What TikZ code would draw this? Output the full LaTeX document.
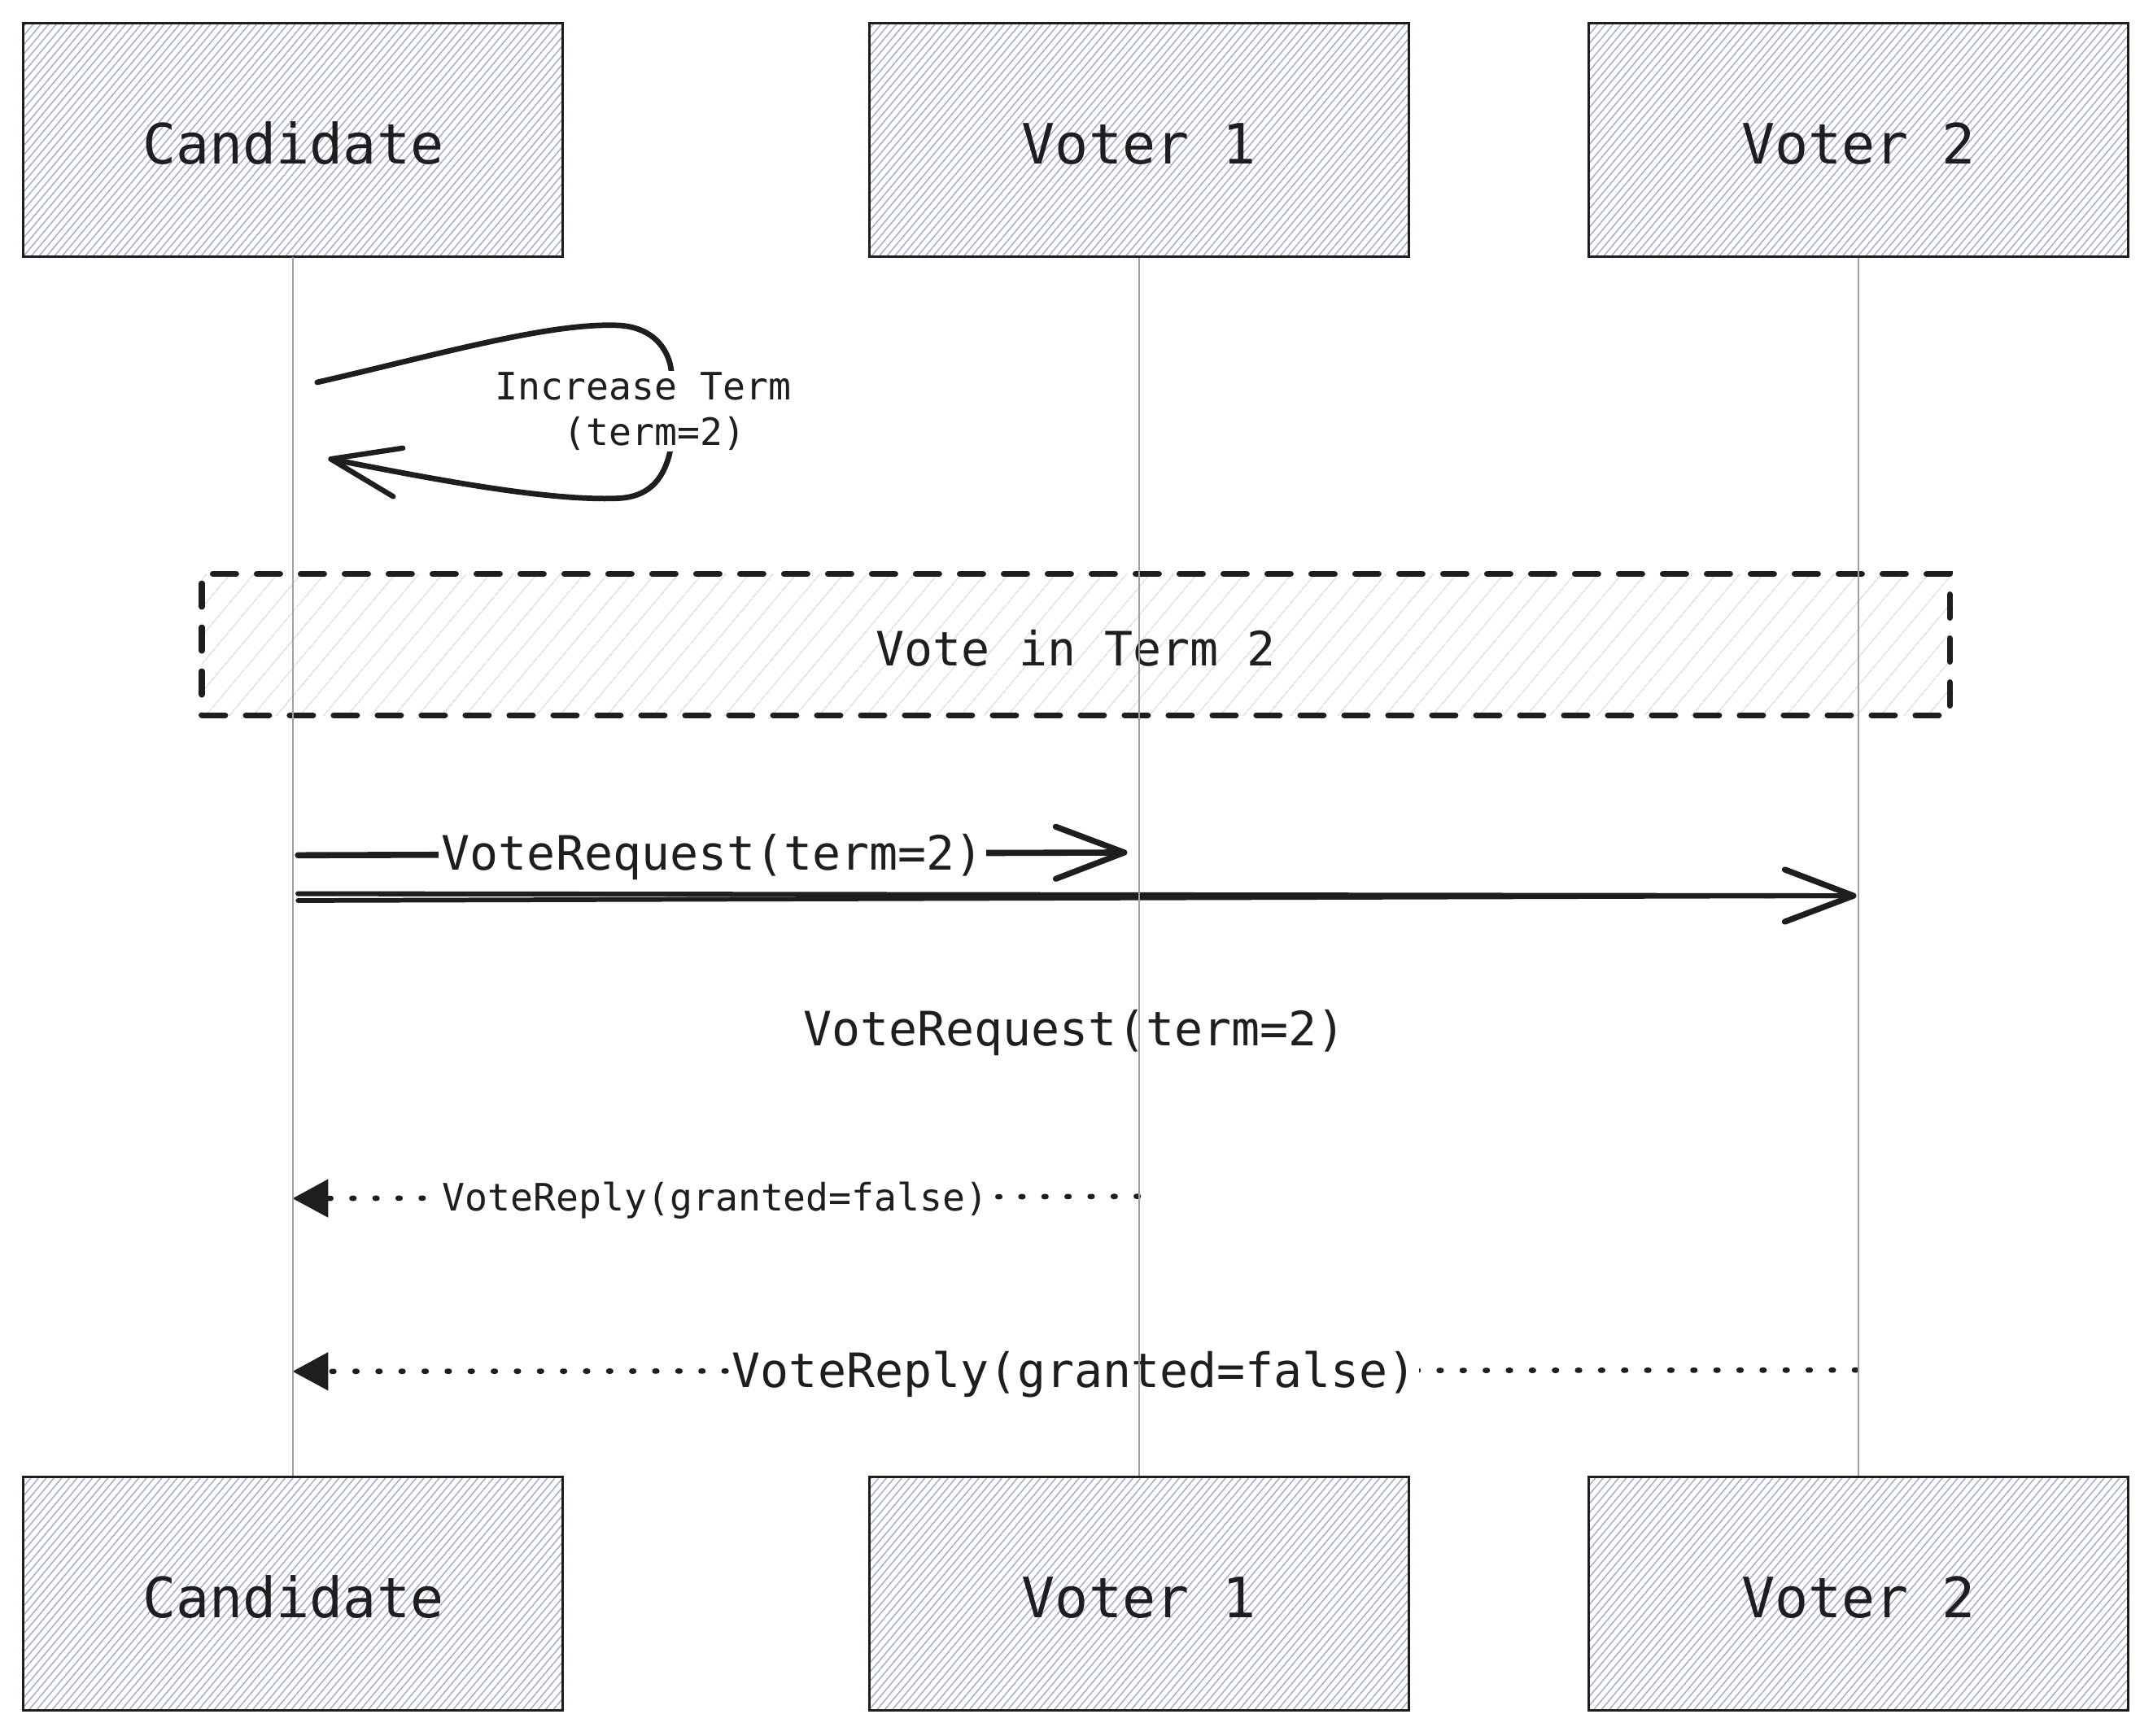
\documentclass[tikz,border=0pt]{standalone}
\usepackage{fontspec}
\setmonofont{DejaVu Sans Mono}
\usetikzlibrary{arrows.meta,patterns.meta}
\definecolor{ink}{HTML}{1E1E1E}
\definecolor{hatchA}{HTML}{A3ABC9}
\definecolor{hatchB}{HTML}{DDE1E7}
\definecolor{life}{HTML}{A0A0A0}
\tikzset{
 actor/.style={draw=ink, line width=1.7pt, minimum width=393pt, minimum height=170pt, inner sep=0pt,
   pattern={Lines[angle=50,distance=4.3pt,line width=0.85pt]}, pattern color=hatchA,
   font=\ttfamily\fontsize{40.5}{48}\selectfont, text=ink, text height=35pt, text depth=0pt},
 framebox/.style={draw=ink, line width=4.3pt, dash pattern=on 17pt off 15pt, line cap=round,
   minimum width=1273pt, minimum height=103pt, inner sep=0pt,
   pattern={Lines[angle=50,distance=13pt,line width=1pt]}, pattern color=hatchB,
   font=\ttfamily\fontsize{34.5}{41}\selectfont, text=ink, text height=30.5pt, text depth=0pt},
 lifeline/.style={draw=life, line width=1.4pt},
 msg/.style={draw=ink, line width=4.5pt, line cap=round,
   -{Straight Barb[length=50pt,width=38pt,line width=4.3pt,round]}},
 reply/.style={draw=ink, line width=3.9pt, line cap=round, dash pattern=on 1.5pt off 15.3pt,
   -{Triangle[length=26pt,width=27pt]}},
 biglabel/.style={font=\ttfamily\fontsize{34.5}{41}\selectfont, text=ink, fill=white, inner xsep=2pt, inner ysep=1pt, yshift=-2.5pt},
 smalllabel/.style={font=\ttfamily\fontsize{27.5}{33}\selectfont, text=ink, fill=white, inner xsep=2pt, inner ysep=1pt, yshift=-2pt},
}
\begin{document}
\begin{tikzpicture}[x=1pt,y=-1pt]
\fill[white] (0,0) rectangle (1568,1264);
\useasboundingbox (0,0) rectangle (1568,1264);

% actors
\node[actor] (candTop) at (213.5,102) {Candidate};
\node[actor] (v1Top) at (829.5,102) {Voter 1};
\node[actor] (v2Top) at (1353.5,102) {Voter 2};
\node[actor] (candBot) at (213.5,1161) {Candidate};
\node[actor] (v1Bot) at (829.5,1161) {Voter 1};
\node[actor] (v2Bot) at (1353.5,1161) {Voter 2};

% self loop
\coordinate (loopS) at (231,278.5);
\coordinate (loopE) at (239,334);
\draw[ink, line width=4pt, line cap=round,
  -{Straight Barb[length=50pt,width=36pt,line width=3.8pt,round]}]
  (loopS) .. controls (320,258) and (400,235) .. (450,237)
  .. controls (472,238) and (484,250) .. (488,265)
  .. controls (492,285) and (492,315) .. (487,333)
  .. controls (482,350) and (472,362) .. (450,363)
  .. controls (400,365) and (320,350) .. (loopE);
\node[smalllabel, align=center] (incr) at (468.5,297.5) {Increase Term\\\hspace*{0.6em}(term=2)};

% frame
\node[framebox] (frame) at (783.5,469.5) {Vote in Term 2};

% request 1
\coordinate (r1s) at (217,623);
\coordinate (r1e) at (821,621);
\draw[msg] (r1s) -- node[biglabel] (r1lab) {VoteRequest(term=2)} (r1e);

% request 2 (double stroke)
\coordinate (r2a) at (217,651);
\coordinate (r2b) at (217,656);
\coordinate (r2e) at (1352,652.5);
\coordinate (r2f) at (1344,652.5);
\draw[ink, line width=3.4pt, line cap=round] (r2b) -- (r2f);
\draw[msg, line width=3.6pt] (r2a) -- (r2e);
\node[biglabel, fill=none] (r2lab) at (782.5,750) {VoteRequest(term=2)};

% reply 1
\coordinate (p1s) at (829,871.5);
\coordinate (p1e) at (213,873);
\draw[reply] (p1s) -- node[smalllabel] (p1lab) {VoteReply(granted=false)} (p1e);

% reply 2
\coordinate (p2s) at (1352,998);
\coordinate (p2e) at (213,999);
\draw[reply] (p2s) -- node[biglabel] (p2lab) {VoteReply(granted=false)} (p2e);

% lifelines
\draw[lifeline] (candTop.south) -- (candBot.north);
\draw[lifeline] (v1Top.south) -- (v1Bot.north);
\draw[lifeline] (v2Top.south) -- (v2Bot.north);
\end{tikzpicture}
\end{document}
